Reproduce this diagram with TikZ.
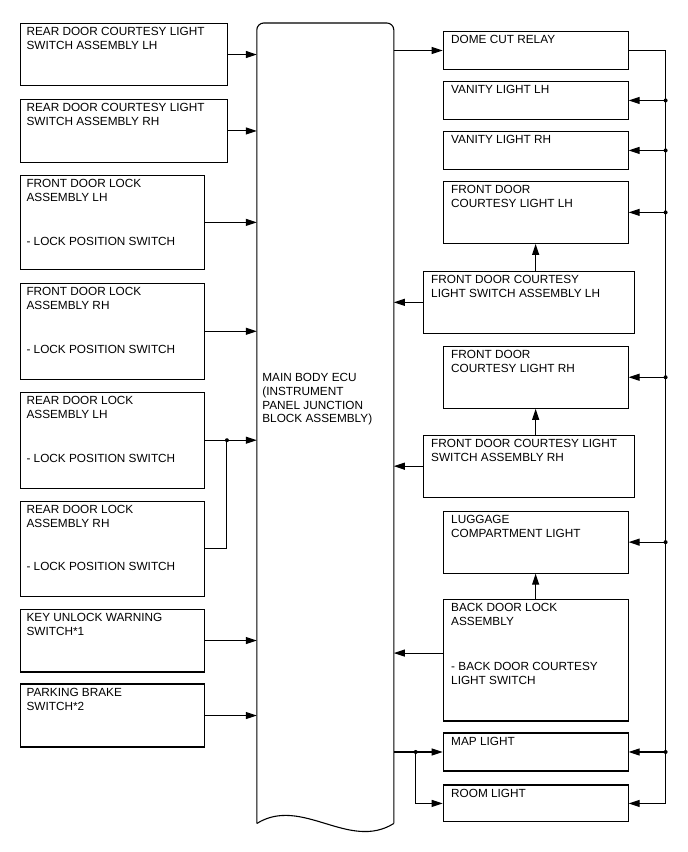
\documentclass[tikz,border=0pt]{standalone}
\usepackage{fontspec}
\setmainfont{Liberation Sans}
\usetikzlibrary{arrows.meta, positioning}

\begin{document}
\begin{tikzpicture}[
  x=1pt, y=-1pt,
  line width=1.1pt,
  unit/.style 2 args={draw, rectangle, anchor=north west, inner sep=0pt,
    minimum width=#1, minimum height=#2},
  lbl/.style={anchor=north west, align=left, inner xsep=6pt, inner ysep=4pt,
    font=\fontsize{11.8}{13.8}\selectfont},
  rlbl/.style={lbl, inner xsep=8pt},
  conn/.style={draw, -{Triangle[length=11pt, width=7pt]}}
]
\fill[white] (0,0) rectangle (688,852);

% inputs on the left
\node[unit={207pt}{62pt}, label={[lbl]north west:REAR DOOR COURTESY LIGHT\\SWITCH ASSEMBLY LH}] (rdcsLH) at (20,23) {};
\node[unit={207pt}{63pt}, label={[lbl]north west:REAR DOOR COURTESY LIGHT\\SWITCH ASSEMBLY RH}] (rdcsRH) at (20,99) {};
\node[unit={184pt}{94pt}, label={[lbl]north west:FRONT DOOR LOCK\\ASSEMBLY LH\\[30pt]- LOCK POSITION SWITCH}] (fdlLH) at (20,175) {};
\node[unit={184pt}{96pt}, label={[lbl]north west:FRONT DOOR LOCK\\ASSEMBLY RH\\[30pt]- LOCK POSITION SWITCH}] (fdlRH) at (20,283) {};
\node[unit={184pt}{96pt}, label={[lbl]north west:REAR DOOR LOCK\\ASSEMBLY LH\\[30pt]- LOCK POSITION SWITCH}] (rdlLH) at (20,392) {};
\node[unit={184pt}{95pt}, label={[lbl]north west:REAR DOOR LOCK\\ASSEMBLY RH\\[30pt]- LOCK POSITION SWITCH}] (rdlRH) at (20,501) {};
\node[unit={184pt}{63pt}, label={[lbl]north west:KEY UNLOCK WARNING\\SWITCH*1}] (kuws) at (20,609) {};
\node[unit={184pt}{63pt}, label={[lbl]north west:PARKING BRAKE\\SWITCH*2}] (pkb) at (20,684) {};

% main body ECU
\node[unit={136pt}{800pt}, draw=none] (ecu) at (257,23) {};
\draw[rounded corners=7pt] (ecu.south west) -- (ecu.north west) -- (ecu.north east) -- (ecu.south east);
\draw (ecu.south east) .. controls ([xshift=-45pt,yshift=-28pt]ecu.south east) and ([xshift=45pt,yshift=28pt]ecu.south west) .. (ecu.south west);
\node[lbl, inner sep=0pt] (ecutxt) at (262,373) {MAIN BODY ECU\\(INSTRUMENT\\PANEL JUNCTION\\BLOCK ASSEMBLY)};

% outputs on the right
\node[unit={185pt}{38pt}, label={[rlbl]north west:DOME CUT RELAY}] (dome) at (443,31) {};
\node[unit={185pt}{38pt}, label={[rlbl]north west:VANITY LIGHT LH}] (vanLH) at (443,81) {};
\node[unit={185pt}{38pt}, label={[rlbl]north west:VANITY LIGHT RH}] (vanRH) at (443,131) {};
\node[unit={185pt}{62pt}, label={[rlbl]north west:FRONT DOOR\\COURTESY LIGHT LH}] (fdclLH) at (443,181) {};
\node[unit={211pt}{62pt}, label={[rlbl]north west:FRONT DOOR COURTESY\\LIGHT SWITCH ASSEMBLY LH}] (fdcsLH) at (423,271) {};
\node[unit={185pt}{62pt}, label={[rlbl]north west:FRONT DOOR\\COURTESY LIGHT RH}] (fdclRH) at (443,346) {};
\node[unit={211pt}{62pt}, label={[rlbl]north west:FRONT DOOR COURTESY LIGHT\\SWITCH ASSEMBLY RH}] (fdcsRH) at (423,435) {};
\node[unit={185pt}{62pt}, label={[rlbl]north west:LUGGAGE\\COMPARTMENT LIGHT}] (lug) at (443,511) {};
\node[unit={185pt}{122pt}, label={[rlbl]north west:BACK DOOR LOCK\\ASSEMBLY\\[32pt]- BACK DOOR COURTESY\\LIGHT SWITCH}] (bdl) at (443,599) {};
\node[unit={185pt}{38pt}, label={[rlbl]north west:MAP LIGHT}] (map) at (443,733) {};
\node[unit={185pt}{37pt}, label={[rlbl]north west:ROOM LIGHT}] (room) at (443,785) {};

% signals into the ECU
\foreach \src in {rdcsLH, rdcsRH, fdlLH, fdlRH, rdlLH, kuws, pkb}
  \draw[conn] (\src.east) -- (\src.east -| ecu.west);
\coordinate (jrd) at ([xshift=22pt]rdlLH.east);
\draw (rdlRH.east) -| (jrd);
\fill (jrd) circle (2pt);

\foreach \src in {fdcsLH, fdcsRH}
  \draw[conn] (\src.west) -- (\src.west -| ecu.east);
\draw[conn] ([yshift=7pt]bdl.west) -- ([yshift=7pt]bdl.west -| ecu.east);

% switches to their lights
\draw[conn] (fdcsLH.north -| fdclLH.south) -- (fdclLH.south);
\draw[conn] (fdcsRH.north -| fdclRH.south) -- (fdclRH.south);
\draw[conn] (bdl.north) -- (lug.south);

% ECU outputs
\draw[conn] (dome.west -| ecu.east) -- (dome.west);
\coordinate (jml) at ([xshift=-27pt]map.west);
\draw[conn] (map.west -| ecu.east) -- (map.west);
\draw[conn] (jml) |- (room.west);
\fill (jml) circle (2pt);

% dome cut relay bus
\coordinate (bus) at ([xshift=37pt]dome.east);
\draw[conn] (dome.east) -- (bus) -- (bus |- room.east) -- (room.east);
\foreach \dst in {vanLH, vanRH, fdclLH, fdclRH, lug, map} {
  \draw[conn] (bus |- \dst.east) -- (\dst.east);
  \fill (bus |- \dst.east) circle (2pt);
}
\end{tikzpicture}
\end{document}
